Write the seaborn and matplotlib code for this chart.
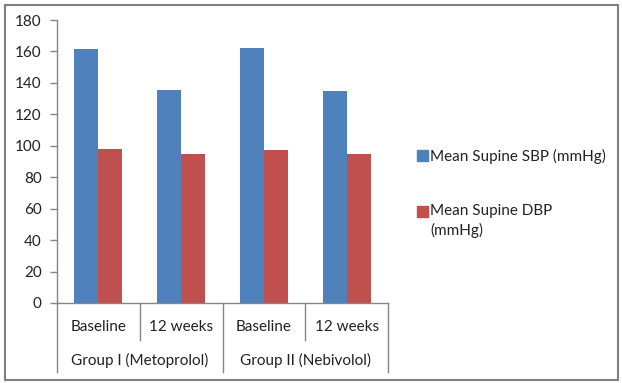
import matplotlib
matplotlib.use('Agg')
import matplotlib.pyplot as plt
from matplotlib.patches import Rectangle
from matplotlib.lines import Line2D
import seaborn as sns
import pandas as pd

# data
groups = ['Group I (Metoprolol)', 'Group II (Nebivolol)']
timepoints = ['Baseline', '12 weeks']
series = ['Mean Supine SBP (mmHg)', 'Mean Supine DBP (mmHg)']
sbp = [161.3, 135.6, 162.3, 134.7]
dbp = [98.1, 95.0, 97.6, 94.6]
yticks = [0, 20, 40, 60, 80, 100, 120, 140, 160, 180]

BLUE = '#4F81BD'
RED = '#C0504D'
GREY = '#868686'
FONT = 'Lato'

cats = [f'{t}|{g}' for g in groups for t in timepoints]
df = pd.DataFrame({
    'cat': cats * 2,
    'value': sbp + dbp,
    'series': [series[0]] * 4 + [series[1]] * 4,
})

W, H = 622, 383
fig = plt.figure(figsize=(W / 100, H / 100), dpi=100)
plt.rcParams['font.family'] = [FONT, 'DejaVu Sans']

x0, x1, y0, y1 = 57, 388, 303, 20
ax = fig.add_axes([x0 / W, 1 - y0 / H, (x1 - x0) / W, (y0 - y1) / H])
sns.barplot(data=df, x='cat', y='value', hue='series', order=cats,
            palette=[BLUE, RED], width=0.58, saturation=1, ax=ax, legend=False)

ax.set_ylim(0, 180)
ax.set_xlim(-0.5, 3.5)
ax.set_yticks(yticks)
ax.set_yticklabels([str(v) for v in yticks], fontsize=11, color='#222222')
ax.set_xticks([])
ax.set_xlabel('')
ax.set_ylabel('')
for s in ['top', 'right']:
    ax.spines[s].set_visible(False)
for s in ['left', 'bottom']:
    ax.spines[s].set_color(GREY)
    ax.spines[s].set_linewidth(1.0)
ax.tick_params(axis='y', length=5, color=GREY, width=1.0, pad=6)

# multi-level category axis
tr = ax.get_xaxis_transform()
for i, c in enumerate(cats):
    ax.text(i, -(327 - y0) / (y0 - y1), c.split('|')[0], transform=tr,
            ha='center', va='center', fontsize=11, color='#222222')
for j, g in enumerate(groups):
    ax.text(j * 2 + 0.5, -(360 - y0) / (y0 - y1), g, transform=tr,
            ha='center', va='center', fontsize=11, color='#222222')
short = -(340 - y0) / (y0 - y1)
tall = -(372 - y0) / (y0 - y1)
for xpos, ybot in [(-0.5, tall), (0.5, short), (1.5, tall), (2.5, short), (3.5, tall)]:
    ax.add_line(Line2D([xpos, xpos], [0, ybot], transform=tr, color=GREY,
                       lw=1.0, clip_on=False))

# legend drawn on the figure
for k, (col, ytop) in enumerate([(BLUE, 150), (RED, 206)]):
    fig.add_artist(Rectangle((417 / W, 1 - (ytop + 11) / H), 11 / W, 11 / H,
                             transform=fig.transFigure, color=col))
fig.text(430 / W, 1 - 156 / H, 'Mean Supine SBP (mmHg)', fontsize=11,
         va='center', ha='left', color='#222222')
fig.text(430 / W, 1 - 211 / H, 'Mean Supine DBP', fontsize=11,
         va='center', ha='left', color='#222222')
fig.text(430 / W, 1 - 230 / H, '(mmHg)', fontsize=11,
         va='center', ha='left', color='#222222')

# chart border
fig.add_artist(Rectangle((5 / W, 3 / H), 613 / W, 375 / H, transform=fig.transFigure,
                         fill=False, edgecolor='#7f7f7f', lw=1.5))

fig.savefig('out.png', dpi=100)
